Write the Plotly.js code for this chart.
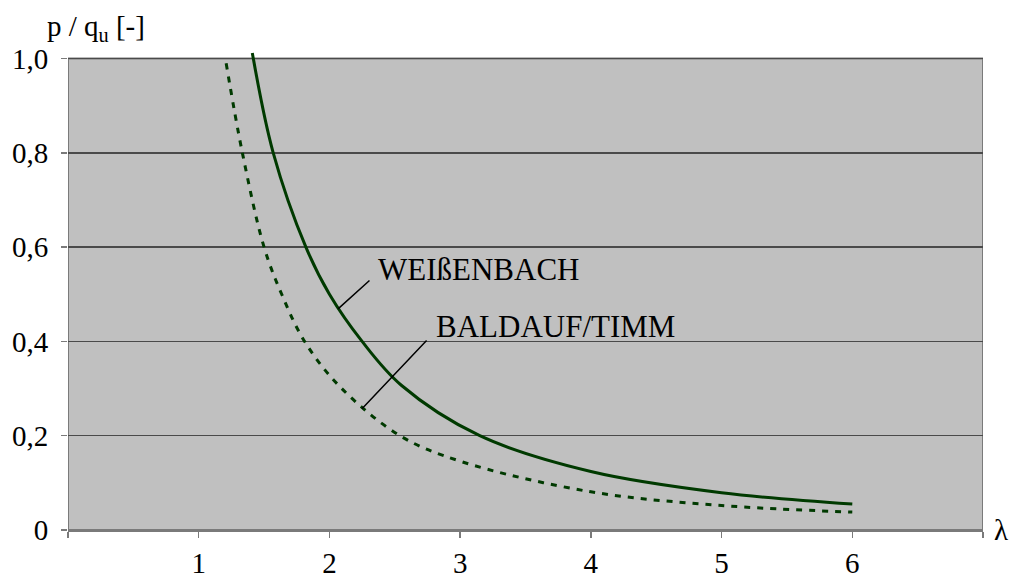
<!DOCTYPE html>
<html>
<head>
<meta charset="utf-8">
<script src="https://cdn.plot.ly/plotly-3.0.1.min.js"></script>
<style>
html,body{margin:0;padding:0;background:#fff;}
#chart{width:1010px;height:576px;}
#chart svg text{font-family:"Liberation Serif","Times New Roman",serif !important;}
</style>
</head>
<body>
<div id="chart"></div>
<script>
// Weißenbach curve (solid)
const weissLambda = [1.41, 1.57, 1.82, 2.0, 2.25, 2.55, 3.15, 4.0, 5.0, 6.0];
const weissP      = [1.012, 0.80, 0.60, 0.50, 0.40, 0.307, 0.20, 0.124, 0.079, 0.055];
// Baldauf/Timm curve (dashed)
const baldLambda = [1.21, 1.334, 1.5, 1.635, 1.81, 2.08, 2.54, 3.0, 4.0, 5.0, 6.0];
const baldP      = [0.99, 0.80, 0.60, 0.50, 0.40, 0.304, 0.20, 0.146, 0.081, 0.052, 0.038];
// axes
const xTickVals = [0, 1, 2, 3, 4, 5, 6, 7];
const xTickText = ['', '1', '2', '3', '4', '5', '6', ''];
const yTickVals = [0, 0.2, 0.4, 0.6, 0.8, 1.0];
const yTickText = ['0', '0,2', '0,4', '0,6', '0,8', '1,0'];
const seriesNames = ['WEIßENBACH', 'BALDAUF/TIMM'];

const FONT = "Liberation Serif";
const lineCol = '#003a00';
const axisGray = '#7a7a7a';

const traces = [
  {x: weissLambda, y: weissP, mode: 'lines', name: seriesNames[0],
   line: {color: lineCol, width: 3, shape: 'spline', smoothing: 1}},
  {x: baldLambda, y: baldP, mode: 'lines', name: seriesNames[1],
   line: {color: lineCol, width: 3, shape: 'spline', smoothing: 1, dash: '6px,7px'}}
];

const layout = {
  width: 1010, height: 576,
  margin: {l: 68, r: 27, t: 51, b: 46},
  paper_bgcolor: '#ffffff',
  plot_bgcolor: '#ffffff',
  showlegend: false,
  font: {family: FONT, size: 29, color: '#000'},
  xaxis: {
    range: [0, 7], tickvals: xTickVals, ticktext: xTickText,
    ticks: 'outside', ticklen: 6, tickwidth: 1.5, tickcolor: axisGray,
    showline: true, linecolor: axisGray, linewidth: 2,
    showgrid: false, zeroline: false, ticklabelstandoff: 0,
    tickfont: {family: FONT, size: 29, color: '#000'}
  },
  yaxis: {
    range: [0, 1.016], tickvals: yTickVals, ticktext: yTickText,
    ticks: 'outside', ticklen: 6, tickwidth: 1.5, tickcolor: axisGray,
    showline: false, showgrid: true, gridcolor: '#4a4a4a', gridwidth: 1.5,
    zeroline: false, ticklabelstandoff: 7,
    tickfont: {family: FONT, size: 29, color: '#000'}
  },
  shapes: [
    {type: 'rect', xref: 'x', yref: 'y', x0: 0, x1: 7, y0: 0, y1: 1,
     fillcolor: '#c0c0c0', line: {color: axisGray, width: 2}, layer: 'below'}
  ],
  annotations: [
    {xref: 'paper', yref: 'paper', x: -0.0251, y: 1.048, xanchor: 'left', yanchor: 'middle',
     text: 'p / q<sub>u</sub> [-]', showarrow: false, font: {family: FONT, size: 29}},
    {xref: 'paper', yref: 'paper', x: 1, y: 0, xanchor: 'left', yanchor: 'middle', xshift: 9,
     text: 'λ', showarrow: false, font: {family: FONT, size: 29}},
    {xref: 'x', yref: 'y', x: 2.357, y: 0.553, xanchor: 'left', yanchor: 'middle',
     text: seriesNames[0], showarrow: false, font: {family: FONT, size: 31}},
    {xref: 'x', yref: 'y', x: 2.80, y: 0.432, xanchor: 'left', yanchor: 'middle',
     text: seriesNames[1], showarrow: false, font: {family: FONT, size: 31}},
    {xref: 'x', yref: 'y', x: 2.066, y: 0.469, axref: 'x', ayref: 'y', ax: 2.318, ay: 0.532,
     text: '', showarrow: true, arrowhead: 0, arrowwidth: 1.5, arrowcolor: '#000', standoff: 0, startstandoff: 0},
    {xref: 'x', yref: 'y', x: 2.249, y: 0.257, axref: 'x', ayref: 'y', ax: 2.754, ay: 0.405,
     text: '', showarrow: true, arrowhead: 0, arrowwidth: 1.5, arrowcolor: '#000', standoff: 0, startstandoff: 0}
  ]
};

Plotly.newPlot('chart', traces, layout, {staticPlot: true, displayModeBar: false});
</script>
</body>
</html>
